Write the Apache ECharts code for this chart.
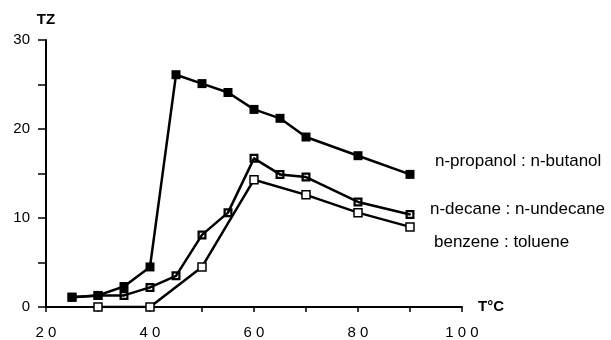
<!DOCTYPE html>
<html>
<head>
<meta charset="utf-8">
<script src="https://cdn.jsdelivr.net/npm/echarts@6/dist/echarts.min.js"></script>
<style>
  html, body { margin: 0; padding: 0; background: #fff; }
  #main { width: 611px; height: 340px; }
</style>
</head>
<body>
<div id="main"></div>
<script>
// values (T in °C, TZ)
var propanolT = [25, 30, 35, 40, 45, 50, 55, 60, 65, 70, 80, 90];
var propanolTZ = [1.1, 1.3, 2.3, 4.5, 26.1, 25.1, 24.1, 22.2, 21.2, 19.1, 17.0, 14.9];

var decaneT = [25, 30, 35, 40, 45, 50, 55, 60, 65, 70, 80, 90];
var decaneTZ = [1.1, 1.3, 1.3, 2.2, 3.5, 8.1, 10.6, 16.7, 14.9, 14.6, 11.8, 10.4];

var benzeneT = [30, 40, 50, 60, 70, 80, 90];
var benzeneTZ = [0, 0, 4.5, 14.3, 12.6, 10.6, 9.0];

var seriesNames = ['n-propanol : n-butanol', 'n-decane : n-undecane', 'benzene : toluene'];

function pairs(xs, ys) {
  return xs.map(function (x, i) { return [x, ys[i]]; });
}

// square outline with a dot in the middle
var dotSquare = 'path://M0,0L10,0L10,10L0,10Z M2.5,2.5L2.5,7.5L7.5,7.5L7.5,2.5Z M4,4L6,4L6,6L4,6Z';

var font = '"Liberation Sans", Arial, Helvetica, sans-serif';

var chart = echarts.init(document.getElementById('main'), null, { renderer: 'canvas' });

var option = {
  animation: false,
  backgroundColor: '#fff',
  textStyle: { fontFamily: font, color: '#000' },
  grid: { left: 46, right: 149, top: 40, bottom: 33, containLabel: false },
  xAxis: {
    type: 'value',
    min: 20,
    max: 100,
    interval: 10,
    name: 'T°C',
    nameLocation: 'end',
    nameGap: 16,
    nameTextStyle: { fontFamily: font, fontSize: 15, fontWeight: 'bold', color: '#000', padding: [0, 0, 14, 0] },
    axisLine: { lineStyle: { color: '#000', width: 2 } },
    axisTick: { inside: false, length: 5, lineStyle: { color: '#000', width: 1.5 } },
    axisLabel: {
      margin: 18,
      fontSize: 15,
      color: '#000',
      fontFamily: font,
      formatter: function (v) { return v % 20 === 0 ? String(v).split('').join(' ') : ''; }
    },
    splitLine: { show: false }
  },
  yAxis: {
    type: 'value',
    min: 0,
    max: 30,
    interval: 5,
    name: 'TZ',
    nameLocation: 'end',
    nameGap: 13,
    nameTextStyle: { fontFamily: font, fontSize: 15, fontWeight: 'bold', color: '#000', align: 'center' },
    axisLine: { lineStyle: { color: '#000', width: 2 } },
    axisTick: { inside: false, length: 8, lineStyle: { color: '#000', width: 1.5 } },
    axisLabel: {
      margin: 16,
      fontSize: 15,
      color: '#000',
      fontFamily: font,
      formatter: function (v) { return v % 10 === 0 ? String(v) : ''; }
    },
    splitLine: { show: false }
  },
  series: [
    {
      name: seriesNames[0],
      type: 'line',
      data: pairs(propanolT, propanolTZ),
      symbol: 'rect',
      symbolSize: 9,
      lineStyle: { color: '#000', width: 2.5 },
      itemStyle: { color: '#000' },
      z: 3
    },
    {
      name: seriesNames[1],
      type: 'line',
      data: pairs(decaneT, decaneTZ),
      symbol: dotSquare,
      symbolSize: 9,
      lineStyle: { color: '#000', width: 2.5 },
      itemStyle: { color: '#000' },
      z: 2
    },
    {
      name: seriesNames[2],
      type: 'line',
      data: pairs(benzeneT, benzeneTZ),
      symbol: 'rect',
      symbolSize: 8,
      lineStyle: { color: '#000', width: 2.5 },
      itemStyle: { color: '#fff', borderColor: '#000', borderWidth: 1.5 },
      z: 4
    }
  ],
  graphic: [
    { type: 'text', left: 435, top: 153, style: { text: seriesNames[0], font: '17px ' + font, fill: '#000' } },
    { type: 'text', left: 430, top: 201, style: { text: seriesNames[1], font: '17px ' + font, fill: '#000' } },
    { type: 'text', left: 434, top: 234, style: { text: seriesNames[2], font: '17px ' + font, fill: '#000' } }
  ]
};

chart.setOption(option);
</script>
</body>
</html>
